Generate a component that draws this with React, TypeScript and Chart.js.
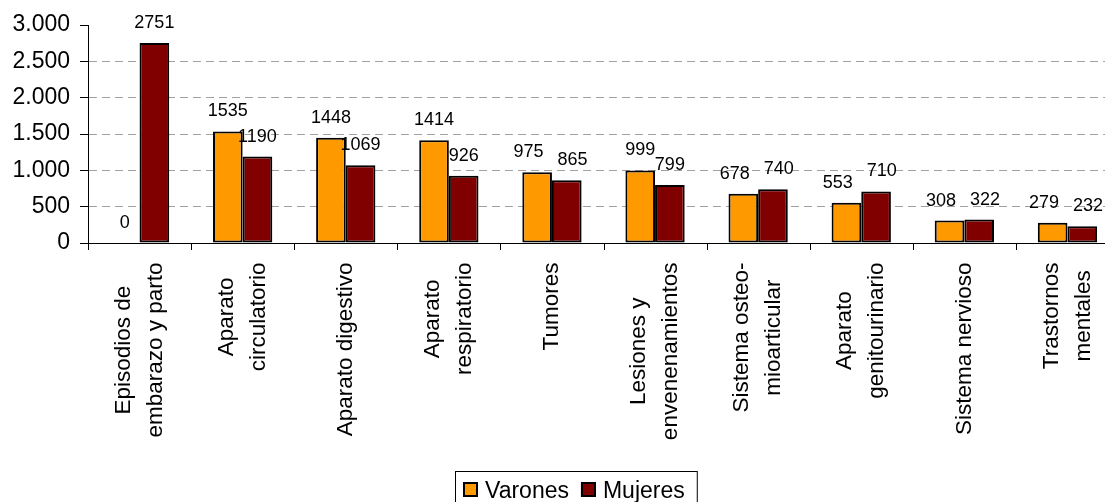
import React, { useEffect, useRef } from "react";
import { Chart, registerables } from "chart.js";

Chart.register(...registerables);

const categories: string[][] = [
  ["Episodios de", "embarazo y parto"],
  ["Aparato", "circulatorio"],
  ["Aparato digestivo"],
  ["Aparato", "respiratorio"],
  ["Tumores"],
  ["Lesiones y", "envenenamientos"],
  ["Sistema osteo-", "mioarticular"],
  ["Aparato", "genitourinario"],
  ["Sistema nervioso"],
  ["Trastornos", "mentales"],
];
const varones = [0, 1535, 1448, 1414, 975, 999, 678, 553, 308, 279];
const mujeres = [2751, 1190, 1069, 926, 865, 799, 740, 710, 322, 232];
const yTicks = [0, 500, 1000, 1500, 2000, 2500, 3000];
const seriesNames = ["Varones", "Mujeres"];
const seriesColors = ["#FF9900", "#800000"];

const FONT = "'Liberation Sans', Arial, Helvetica, sans-serif";
const AXIS_SIZE = 23;
const CAT_SIZE = 22.5;
const LABEL_SIZE = 18;

const fmt = (v: number) =>
  String(v).replace(/\B(?=(\d{3})+(?!\d))/g, ".");

const valueLabels = {
  id: "valueLabels",
  afterDatasetsDraw(chart: any) {
    const ctx = chart.ctx;
    ctx.save();
    ctx.font = `${LABEL_SIZE}px ${FONT}`;
    ctx.fillStyle = "#000";
    ctx.textAlign = "center";
    ctx.textBaseline = "alphabetic";
    const n = chart.data.labels.length;
    for (let i = 0; i < n; i++) {
      const items = chart.data.datasets.map((ds: any, d: number) => {
        const el = chart.getDatasetMeta(d).data[i];
        const text = String(ds.data[i]);
        return { x: el.x, y: el.y - 15, w: ctx.measureText(text).width, text };
      });
      if (items.length === 2) {
        const [a, b] = items;
        if (Math.abs(a.y - b.y) < 14) {
          const gap = b.x - b.w / 2 - (a.x + a.w / 2);
          const minGap = 14;
          if (gap < minGap) {
            const s = minGap - gap;
            a.x -= s * 0.6;
            b.x += s * 0.4;
          }
        }
      }
      items.forEach((it: any) => ctx.fillText(it.text, it.x, it.y));
    }
    ctx.restore();
  },
};

const categoryAxis = {
  id: "categoryAxis",
  afterDraw(chart: any) {
    const ctx = chart.ctx;
    const xs = chart.scales.x;
    const n = chart.data.labels.length;
    // tick marks at category boundaries
    ctx.save();
    ctx.strokeStyle = "#000";
    ctx.lineWidth = 1;
    ctx.beginPath();
    for (let i = 0; i <= n; i++) {
      const bx = Math.round(xs.getPixelForValue(i - 0.5)) + 0.5;
      ctx.moveTo(bx, xs.top);
      ctx.lineTo(bx, xs.top + 7);
    }
    ctx.stroke();
    ctx.restore();

    const top = xs.top + 19.5;
    ctx.save();
    ctx.font = `${CAT_SIZE}px ${FONT}`;
    ctx.fillStyle = "#000";
    ctx.textAlign = "center";
    ctx.textBaseline = "middle";
    (chart.data.labels as string[][]).forEach((lines, i) => {
      const cx = xs.getPixelForValue(i);
      const maxW = Math.max(...lines.map((l) => ctx.measureText(l).width));
      lines.forEach((line, k) => {
        const x = cx + (k - (lines.length - 1) / 2) * 32;
        ctx.save();
        ctx.translate(x, top + maxW / 2);
        ctx.rotate(-Math.PI / 2);
        ctx.fillText(line, 0, 0);
        ctx.restore();
      });
    });
    ctx.restore();
  },
};

const boxLegend = {
  id: "boxLegend",
  afterDraw(chart: any) {
    const ctx = chart.ctx;
    ctx.save();
    ctx.font = `${AXIS_SIZE}px ${FONT}`;
    const left = 455;
    const top = 471;
    const sq = 15;
    let x = left + 8;
    const parts: any[] = [];
    chart.data.datasets.forEach((ds: any) => {
      const w = ctx.measureText(ds.label).width;
      parts.push({ sx: x, tx: x + sq + 7, label: ds.label, color: ds.backgroundColor });
      x += sq + 7 + w + 12;
    });
    const right = x;
    ctx.strokeStyle = "#000";
    ctx.lineWidth = 1;
    ctx.strokeRect(left + 0.5, top + 0.5, right - left, 40);
    parts.forEach((p) => {
      ctx.fillStyle = p.color;
      ctx.fillRect(p.sx, 482, sq, sq);
      ctx.lineWidth = 2;
      ctx.strokeStyle = "#000";
      ctx.strokeRect(p.sx + 1, 483, sq - 2, sq - 2);
      ctx.fillStyle = "#000";
      ctx.textAlign = "left";
      ctx.textBaseline = "alphabetic";
      ctx.fillText(p.label, p.tx, 498);
    });
    ctx.restore();
  },
};

export default function App() {
  const ref = useRef<HTMLCanvasElement | null>(null);
  useEffect(() => {
    if (!ref.current) return;
    const mk = (i: number, data: number[]) => ({
      label: seriesNames[i],
      data,
      backgroundColor: seriesColors[i],
      borderColor: "#000",
      borderWidth: 2,
      borderSkipped: false as const,
      categoryPercentage: 0.575,
      barPercentage: 1,
    });
    const chart = new Chart(ref.current, {
      type: "bar",
      data: {
        labels: categories as any,
        datasets: [mk(0, varones), mk(1, mujeres)],
      },
      options: {
        responsive: false,
        animation: false,
        devicePixelRatio: 1,
        layout: { padding: { left: 0, right: 21, top: 25, bottom: 0 } },
        plugins: {
          legend: { display: false },
          tooltip: { enabled: false },
          title: { display: false },
        },
        scales: {
          x: {
            offset: true,
            grid: {
              display: false,
              offset: true,
              drawOnChartArea: false,
              drawTicks: false,
            },
            border: { display: true, color: "#000", width: 1 },
            ticks: { display: false },
            afterFit: (s: any) => {
              s.height = 259;
            },
          },
          y: {
            min: 0,
            max: 3000,
            afterBuildTicks: (s: any) => {
              s.ticks = yTicks.map((v) => ({ value: v }));
            },
            ticks: {
              padding: 10,
              color: "#000",
              font: { family: FONT, size: AXIS_SIZE },
              callback: (v: any) => fmt(Number(v)),
            },
            grid: {
              color: (c: any) =>
                c.tick && (c.tick.value === 0 || c.tick.value === 3000)
                  ? "rgba(0,0,0,0)"
                  : "#a0a0a0",
              tickColor: "#000",
              tickLength: 8,
              lineWidth: 1,
            },
            border: { display: true, color: "#000", width: 1, dash: [8, 5] },
            afterFit: (s: any) => {
              s.width = 88;
            },
          },
        },
      },
      plugins: [valueLabels, categoryAxis, boxLegend],
    });
    return () => chart.destroy();
  }, []);

  return (
    <div
      style={{
        position: "fixed",
        left: 0,
        top: 0,
        width: 1105,
        height: 502,
        overflow: "hidden",
        background: "#fff",
      }}
    >
      <canvas ref={ref} width={1140} height={502} style={{ display: "block" }} />
    </div>
  );
}
